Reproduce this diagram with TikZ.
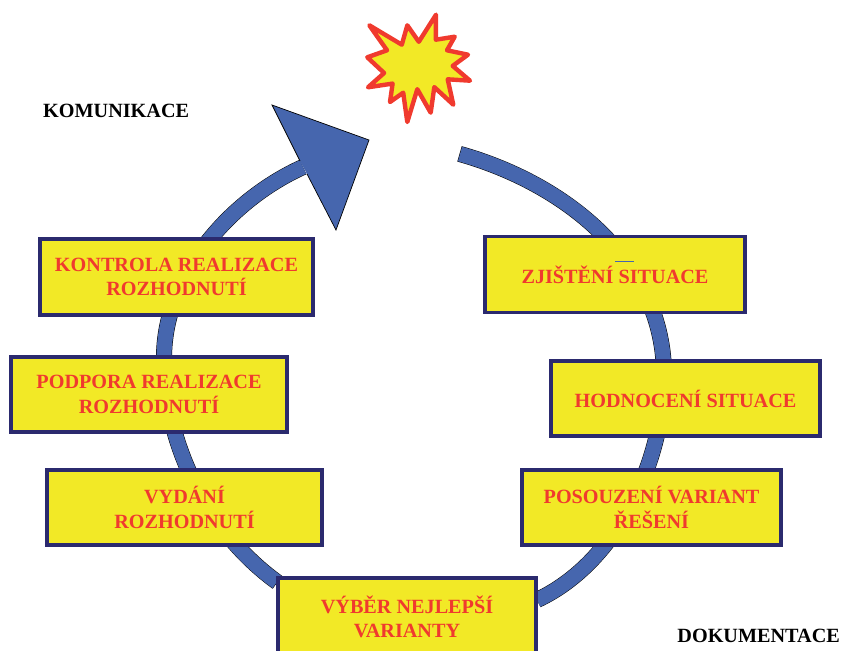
\documentclass[tikz,border=0pt]{standalone}
\usepackage{fontspec}
\setmainfont{Liberation Serif}
\definecolor{boxyellow}{HTML}{F2E926}
\definecolor{textred}{HTML}{F03A2E}
\definecolor{boxnavy}{HTML}{2B2A6E}
\definecolor{ringblue}{HTML}{4666AE}
\tikzset{
  stagebox/.style={draw=boxnavy,line width=3.2pt,fill=boxyellow,text=textred,font=\fontsize{20.2}{24.5}\selectfont\bfseries,align=center,inner sep=0pt,minimum width=#1},
  sidelabel/.style={text=black,font=\fontsize{20.2}{24}\selectfont\bfseries,inner sep=0pt},
  ringedge/.style={line width=16pt,black,line cap=butt,shorten <=-0.5pt},
  ringfill/.style={line width=15pt,ringblue,line cap=butt}
}
\begin{document}
\begin{tikzpicture}[x=1pt,y=-1pt]
\useasboundingbox (0,0) rectangle (842,650);
\clip (0,0) rectangle (842,650);
% ring
\def\rightarc{(460,154) .. controls (570,185) and (664,265) .. (664,375) .. controls (664,460) and (618,562) .. (537,600)}
\def\leftarc{(277,582) .. controls (205,530) and (164,440) .. (164,358) .. controls (164,275) and (230,200) .. (303,167)}
\draw[ringedge] \rightarc;
\draw[ringedge] \leftarc;
\draw[ringfill] \rightarc;
\draw[ringfill] \leftarc;
% arrow head
\draw[fill=ringblue,draw=black,line width=0.7pt,line join=miter] (300,161) -- (272,105) -- (369,140) -- (336,230) -- (307,174);
% burst
\draw[fill=boxyellow,draw=textred,line width=4.4pt,line join=round]
 (369.3,25.3) -- (401.8,44.7) -- (407.3,25.3) -- (418.8,41.8) -- (436,14.7) -- (435.8,39.7) -- (454.7,36.7) -- (447,50.3) -- (468,54.7) -- (452.7,65.9) -- (470,80.7) -- (447.7,79.3) -- (453.3,104.7) -- (434.3,87.1) -- (430.7,112.7) -- (417.3,89.2) -- (407.3,122) -- (403.2,92.7) -- (390,102) -- (392.6,83.6) -- (368,87.3) -- (384.1,73) -- (367.3,57.3) -- (387,50.3) -- cycle;
% stages
\node[stagebox=260pt,minimum height=76pt] (zjisteni) at (615,274.5) {ZJIŠTĚNÍ SITUACE};
\node[stagebox=269pt,minimum height=75pt] (hodnoceni) at (685.5,398.5) {HODNOCENÍ SITUACE};
\node[stagebox=259pt,minimum height=75pt] (posouzeni) at (651.5,507.5) {POSOUZENÍ VARIANT\\ŘEŠENÍ};
\node[stagebox=258pt,minimum height=78pt] (vyber) at (407,617) {VÝBĚR NEJLEPŠÍ\\VARIANTY};
\node[stagebox=275pt,minimum height=75pt] (vydani) at (184.5,507.5) {VYDÁNÍ\\ROZHODNUTÍ};
\node[stagebox=276pt,minimum height=75pt] (podpora) at (149,394.5) {PODPORA REALIZACE\\ROZHODNUTÍ};
\node[stagebox=273pt,minimum height=76pt] (kontrola) at (176.5,277) {KONTROLA REALIZACE\\ROZHODNUTÍ};
% stray rule
\coordinate (ruleA) at (615,261);
\coordinate (ruleB) at (634,261);
\draw[ringblue,line width=0.9pt] (ruleA) -- (ruleB);
% labels
\node[sidelabel,anchor=west] (komunikace) at (43,110.5) {KOMUNIKACE};
\node[sidelabel,anchor=east] (dokumentace) at (840,636) {DOKUMENTACE};
\end{tikzpicture}
\end{document}
